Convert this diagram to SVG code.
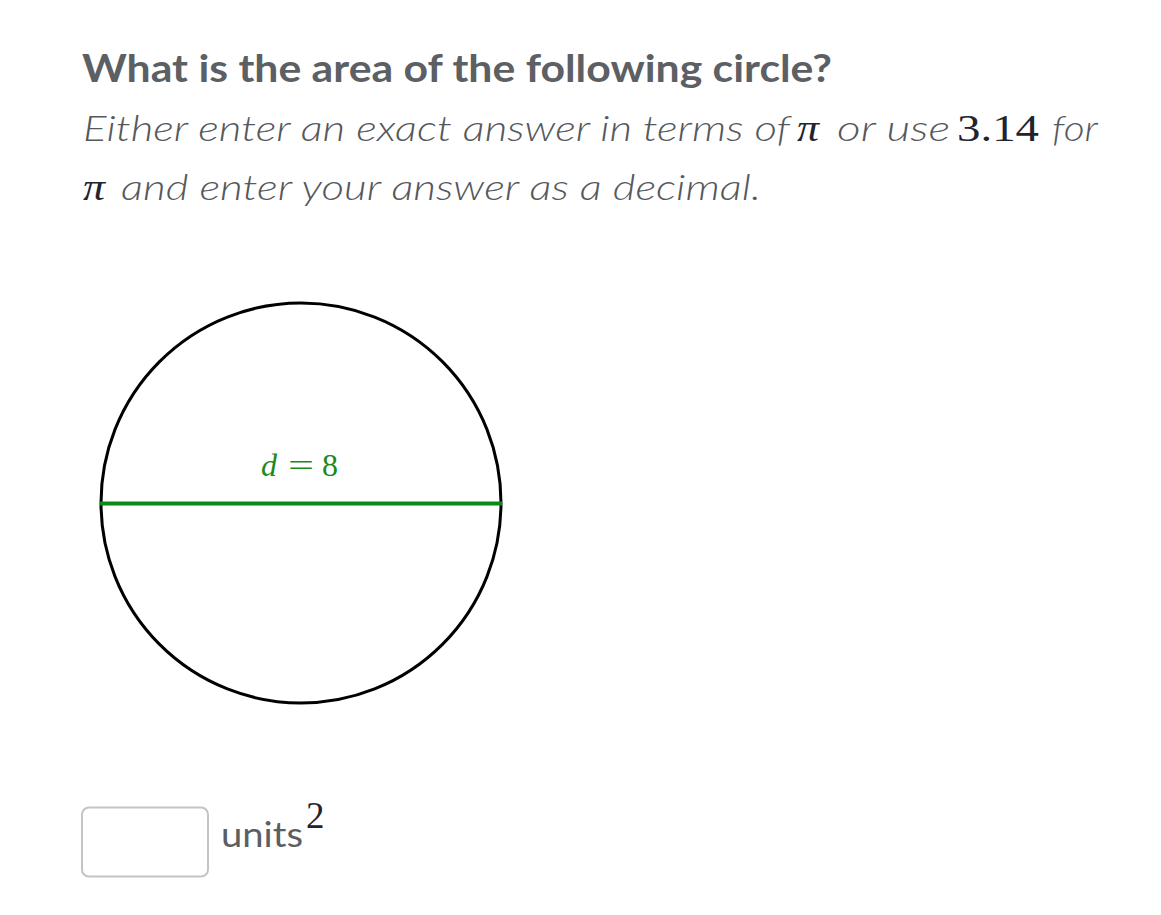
<svg xmlns="http://www.w3.org/2000/svg" width="1161" height="915" viewBox="0 0 1161 915">
<style>
.t{font-family:Lato,"Open Sans","Liberation Sans",sans-serif;fill:#5b5e63}
.b{font-weight:700;font-size:38px;fill:#5c5f64}
.i{font-style:italic;font-weight:300;font-size:35px;fill:#55585d}
.m{font-family:"Liberation Serif","DejaVu Serif",serif;fill:#21242c;font-size:37px}
.g{font-family:"Liberation Serif","DejaVu Serif",serif;font-size:32px;fill:#1a8a1a}
</style>
<rect width="1161" height="915" fill="#fff"/>
<g id="question">
<text class="t b" x="82" y="82" textLength="750" lengthAdjust="spacingAndGlyphs">What is the area of the following circle?</text>
<text class="t i" x="83" y="141" textLength="707" lengthAdjust="spacingAndGlyphs">Either enter an exact answer in terms of</text>
<text class="m" x="797" y="141" font-style="italic" textLength="22" lengthAdjust="spacingAndGlyphs">π</text>
<text class="t i" x="837" y="141" textLength="113" lengthAdjust="spacingAndGlyphs">or use</text>
<text class="m" x="957" y="141" textLength="82" lengthAdjust="spacingAndGlyphs">3.14</text>
<text class="t i" x="1052" y="141" textLength="46" lengthAdjust="spacingAndGlyphs">for</text>
<text class="m" x="83" y="200" font-style="italic" textLength="22" lengthAdjust="spacingAndGlyphs">π</text>
<text class="t i" x="121" y="200" textLength="640" lengthAdjust="spacingAndGlyphs">and enter your answer as a decimal.</text>
</g>
<g id="circle">
<circle cx="301" cy="503" r="200" fill="none" stroke="#000" stroke-width="3"/>
</g>
<g id="connectors">
<line x1="100" y1="503.5" x2="502" y2="503.5" stroke="#0a8a14" stroke-width="4"/>
</g>
<g id="label">
<text class="g" x="261" y="476" font-style="italic">d</text>
<text class="g" x="288" y="476" textLength="26" lengthAdjust="spacingAndGlyphs">=</text>
<text class="g" x="322" y="476">8</text>
</g>
<g id="answer">
<rect x="82" y="807.5" width="126" height="69" rx="7" fill="#fff" stroke="#c4c4c4" stroke-width="2"/>
<text class="t" x="221" y="847" font-size="35" fill="#62656a" textLength="82" lengthAdjust="spacingAndGlyphs">units</text>
<text class="m" x="306" y="828" font-size="24">2</text>
</g>
</svg>
